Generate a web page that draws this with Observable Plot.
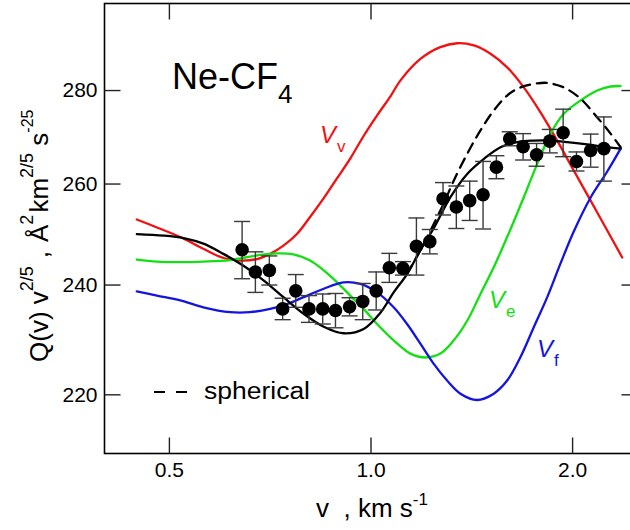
<!DOCTYPE html>
<html>
<head>
<meta charset="utf-8">
<script src="https://cdn.jsdelivr.net/npm/d3@7"></script>
<script src="https://cdn.jsdelivr.net/npm/@observablehq/plot@0.6"></script>
<style>
  html, body { margin: 0; padding: 0; background: #fff; overflow: hidden; }
  #chart { width: 630px; height: 530px; overflow: hidden; }
  #chart svg { display: block; max-width: none !important; width: 640px; height: 530px !important; }
</style>
</head>
<body>
<div id="chart"></div>
<script>
// Measured Q(v)·v^(2/5) for Ne–CF4 against collision velocity v (km/s)
const pointV   = [0.642, 0.672, 0.705, 0.738, 0.772, 0.808, 0.847, 0.885, 0.929, 0.972, 1.018, 1.065, 1.116, 1.169,
                  1.224, 1.281, 1.341, 1.404, 1.470, 1.539, 1.611, 1.687, 1.767, 1.849, 1.936, 2.027, 2.128, 2.227];
const pointQ   = [246.8, 242.5, 242.8, 235.5, 238.9, 235.5, 235.5, 235.2, 235.9, 236.9, 238.9, 243.3, 243.2, 247.5,
                  248.4, 257.0, 255.3, 256.6, 257.8, 263.5, 269.5, 267.8, 266.1, 269.0, 270.8, 264.7, 267.0, 267.4];
const pointErr = [5.6, 3.9, 2.8, 2.0, 3.1, 2.5, 2.8, 3.2, 1.7, 3.4, 3.6, 2.8, 1.3, 5.6,
                  2.4, 3.3, 4.3, 4.0, 6.9, 2.4, 1.5, 2.8, 2.4, 2.5, 5.1, 2.0, 3.5, 6.8];

// Full anisotropic potential (solid black)
const fitV = [0.447, 0.490, 0.525, 0.562, 0.602, 0.645, 0.691, 0.740, 0.793, 0.850, 0.910, 0.975, 1.033, 1.081,
              1.132, 1.185, 1.240, 1.314, 1.392, 1.473, 1.561, 1.653, 1.750, 1.854, 1.963, 2.103, 2.253, 2.359];
const fitQ = [249.9, 249.6, 249.1, 248.0, 246.0, 243.7, 240.9, 237.7, 234.6, 232.2, 231.0, 231.8, 234.8, 238.6,
              242.1, 246.7, 251.0, 257.3, 262.1, 265.2, 267.7, 268.8, 269.1, 269.1, 268.8, 268.3, 267.7, 267.4];

// Spherical (isotropic) average only (dashed black)
const sphV = [1.132, 1.185, 1.227, 1.284, 1.329, 1.392, 1.457, 1.525, 1.597, 1.672, 1.771, 1.833, 1.940, 2.055,
              2.177, 2.279, 2.359];
const sphQ = [242.1, 246.7, 250.6, 256.0, 260.7, 266.3, 271.3, 275.6, 278.9, 280.7, 281.6, 281.7, 280.7, 278.2,
              274.1, 270.6, 267.7];

// Vertex orientation V_v (red)
const vvV = [0.447, 0.479, 0.519, 0.562, 0.602, 0.638, 0.676, 0.707, 0.740, 0.775, 0.811, 0.849, 0.889, 0.932,
             0.976, 1.023, 1.071, 1.106, 1.185, 1.269, 1.345, 1.424, 1.508, 1.597, 1.691, 1.791, 1.897, 2.008,
             2.128, 2.253, 2.372];
const vvQ = [252.8, 251.2, 249.3, 247.0, 245.2, 244.7, 245.0, 246.0, 247.6, 249.9, 253.3, 257.0, 261.1, 265.4,
             270.2, 274.7, 278.9, 282.2, 287.1, 289.8, 290.7, 290.2, 288.3, 285.2, 280.7, 275.2, 269.1, 262.8,
             256.6, 250.6, 245.3];

// Edge orientation V_e (green)
const veV = [0.447, 0.479, 0.519, 0.562, 0.616, 0.676, 0.724, 0.766, 0.811, 0.850, 0.890, 0.931, 0.975, 1.021,
             1.081, 1.145, 1.206, 1.269, 1.329, 1.392, 1.457, 1.525, 1.597, 1.691, 1.771, 1.854, 1.940, 2.055,
             2.177, 2.279, 2.359];
const veQ = [244.9, 244.5, 244.4, 244.5, 244.8, 245.7, 246.1, 245.9, 244.7, 242.8, 240.5, 238.0, 235.5, 232.7,
             229.7, 227.3, 226.6, 227.3, 229.7, 233.3, 238.3, 243.4, 249.3, 257.3, 264.2, 270.6, 274.9, 277.8,
             280.0, 280.9, 281.0];

// Face orientation V_f (blue)
const vfV = [0.447, 0.479, 0.519, 0.562, 0.616, 0.660, 0.707, 0.749, 0.793, 0.850, 0.910, 0.964, 1.021, 1.081,
             1.132, 1.185, 1.240, 1.299, 1.360, 1.440, 1.525, 1.597, 1.672, 1.750, 1.833, 1.918, 2.008, 2.127,
             2.253, 2.359];
const vfQ = [238.8, 238.0, 237.1, 235.8, 234.9, 234.9, 235.5, 236.4, 237.7, 239.3, 240.5, 240.2, 238.6, 235.8,
             232.7, 229.1, 225.5, 222.5, 220.2, 219.1, 220.2, 222.5, 226.7, 232.1, 237.7, 244.1, 250.4, 257.2,
             262.6, 267.4];

// Axis ticks
const xTicks = [0.5, 1.0, 2.0];
const xTickLabels = ["0.5", "1.0", "2.0"];
const yTicks = [220, 240, 260, 280];
const yTickLabels = ["220", "240", "260", "280"];

const FONT = "'Liberation Sans', Arial, Helvetica, sans-serif";
const RED = "#f21010", GREEN = "#12e012", BLUE = "#1414e0";
const LW = 2.3;

// Inward tick and error-bar cap glyphs
const glyph = (x1, y1, x2, y2) => ({ draw(ctx) { ctx.moveTo(x1, y1); ctx.lineTo(x2, y2); } });
const tickFromLeft = glyph(0, 0, 16, 0);
const tickFromRight = glyph(0, 0, -16, 0);
const tickFromBottom = glyph(0, 0, 0, -16);
const tickFromTop = glyph(0, 0, 0, 16);
const cap = glyph(-8, 0, 8, 0);

const idx = d3.range(pointV.length);
const series = (xs, ys) => xs.map((x, i) => ({ x, y: ys[i] }));

const chart = Plot.plot({
  width: 640,
  height: 530,
  marginLeft: 104,
  marginRight: 3,
  marginTop: 3,
  marginBottom: 77,
  style: { fontFamily: FONT, fontSize: "21px", color: "#000", background: "#fff", overflow: "visible" },
  x: { type: "log", domain: [0.4, 2.5] },
  y: { type: "log", domain: [210, 300] },
  marks: [
    // curves
    Plot.line(series(vvV, vvQ), { x: "x", y: "y", stroke: RED, strokeWidth: LW, curve: "catmull-rom" }),
    Plot.line(series(veV, veQ), { x: "x", y: "y", stroke: GREEN, strokeWidth: LW, curve: "catmull-rom" }),
    Plot.line(series(vfV, vfQ), { x: "x", y: "y", stroke: BLUE, strokeWidth: LW, curve: "catmull-rom" }),
    Plot.line(series(sphV, sphQ), { x: "x", y: "y", stroke: "#000", strokeWidth: LW, strokeDasharray: "10,7", curve: "catmull-rom" }),
    Plot.line(series(fitV, fitQ), { x: "x", y: "y", stroke: "#000", strokeWidth: LW, curve: "catmull-rom" }),
    // error bars
    Plot.ruleX(idx, { x: i => pointV[i], y1: i => pointQ[i] - pointErr[i], y2: i => pointQ[i] + pointErr[i], stroke: "#3a3a3a", strokeWidth: 1.4 }),
    Plot.dot(idx, { x: i => pointV[i], y: i => pointQ[i] + pointErr[i], symbol: cap, stroke: "#3a3a3a", strokeWidth: 1.4 }),
    Plot.dot(idx, { x: i => pointV[i], y: i => pointQ[i] - pointErr[i], symbol: cap, stroke: "#3a3a3a", strokeWidth: 1.4 }),
    // measured points
    Plot.dot(idx, { x: i => pointV[i], y: i => pointQ[i], r: 6.8, fill: "#000", stroke: "none" }),
    // frame and inward ticks on all four sides
    Plot.frame({ stroke: "#000", strokeWidth: 1.6 }),
    Plot.dot(yTicks, { y: d => d, frameAnchor: "left", symbol: tickFromLeft, stroke: "#222", strokeWidth: 1.4 }),
    Plot.dot(yTicks, { y: d => d, frameAnchor: "right", symbol: tickFromRight, stroke: "#222", strokeWidth: 1.4 }),
    Plot.dot(xTicks, { x: d => d, frameAnchor: "bottom", symbol: tickFromBottom, stroke: "#222", strokeWidth: 1.4 }),
    Plot.dot(xTicks, { x: d => d, frameAnchor: "top", symbol: tickFromTop, stroke: "#222", strokeWidth: 1.4 }),
    // tick labels
    Plot.axisX(xTicks, { anchor: "bottom", tickSize: 0, tickPadding: 9, tickFormat: d => xTickLabels[xTicks.indexOf(d)], label: null }),
    Plot.axisY(yTicks, { anchor: "left", tickSize: 0, tickPadding: 7, tickFormat: d => yTickLabels[yTicks.indexOf(d)], label: null })
  ]
});

document.getElementById("chart").appendChild(chart);

// Annotations: system name, curve labels, legend entry and axis titles
const svg = d3.select(chart);
const ann = svg.append("g").attr("font-family", FONT).attr("fill", "#000").attr("text-anchor", "start");

const title = ann.append("text").attr("x", 172).attr("y", 89).attr("font-size", 36);
title.append("tspan").text("Ne-CF");
title.append("tspan").attr("font-size", 26).attr("dy", 14).text("4");

function potentialLabel(x, y, sub, color) {
  const t = ann.append("text").attr("x", x).attr("y", y).attr("fill", color).attr("font-size", 24);
  t.append("tspan").attr("font-style", "italic").text("V");
  t.append("tspan").attr("font-size", 17).attr("dx", 1).attr("dy", 9).text(sub);
}
potentialLabel(320, 143, "v", RED);
potentialLabel(489, 308, "e", GREEN);
potentialLabel(537, 357, "f", BLUE);

ann.append("line")
  .attr("x1", 154).attr("x2", 187).attr("y1", 392).attr("y2", 392)
  .attr("stroke", "#000").attr("stroke-width", 2).attr("stroke-dasharray", "11,11");
ann.append("text").attr("x", 204).attr("y", 399).attr("font-size", 23)
  .attr("textLength", 106).attr("lengthAdjust", "spacingAndGlyphs").text("spherical");

// y-axis title, rotated
const yt = ann.append("text")
  .attr("transform", "translate(48,362) rotate(-90)")
  .attr("font-size", 26);
yt.append("tspan").text("Q(v) v");
yt.append("tspan").attr("font-size", 18).attr("dy", -15).text("2/5");
yt.append("tspan").attr("dy", 15).attr("dx", 8).text(",");
yt.append("tspan").attr("dx", 9).text("Å");
yt.append("tspan").attr("font-size", 18).attr("dy", -15).text("2");
yt.append("tspan").attr("dy", 15).attr("dx", 2).text("km");
yt.append("tspan").attr("font-size", 18).attr("dy", -15).text("2/5");
yt.append("tspan").attr("dy", 15).text(" s");
yt.append("tspan").attr("font-size", 16).attr("dy", -15).text("-25");

// x-axis title
const xt = ann.append("text").attr("x", 316).attr("y", 517).attr("font-size", 26);
xt.append("tspan").text("v  , km s");
xt.append("tspan").attr("font-size", 17).attr("dy", -12).text("-1");
</script>
</body>
</html>
